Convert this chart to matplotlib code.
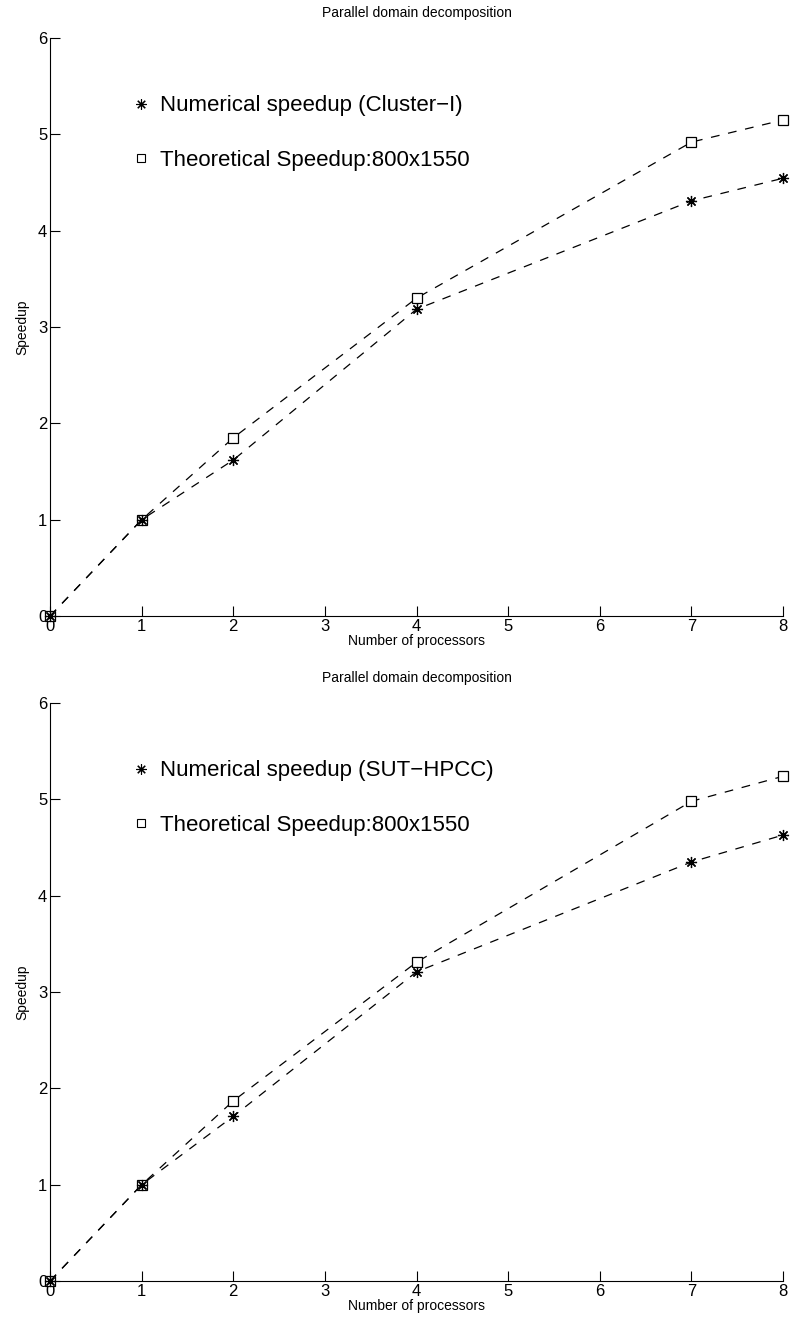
import matplotlib.pyplot as plt
from matplotlib.lines import Line2D

plt.rcParams['font.family'] = ['Liberation Sans', 'DejaVu Sans']

# processors used
procs = [0, 1, 2, 4, 7, 8]

# top panel (Cluster-I)
num_cluster = [0, 1.0, 1.62, 3.185, 4.31, 4.545]
theo_cluster = [0, 1.0, 1.85, 3.30, 4.92, 5.15]

# bottom panel (SUT-HPCC)
num_sut = [0, 1.0, 1.71, 3.21, 4.35, 4.63]
theo_sut = [0, 1.0, 1.87, 3.31, 4.98, 5.24]

panels = [
    ("Numerical speedup (Cluster\u2212I)", num_cluster, theo_cluster),
    ("Numerical speedup (SUT\u2212HPCC)", num_sut, theo_sut),
]

fig = plt.figure(figsize=(7.9, 13.26), dpi=100)
bottoms = [0.5354, 0.0339]
asterisk = (8, 2, 0)

for (label, num, theo), b in zip(panels, bottoms):
    ax = fig.add_axes([0.0633, b, 0.928, 0.4359])
    ax.plot(procs, theo, color='black', linestyle=(0, (7, 7)), linewidth=0.9,
            marker='s', markersize=7, markerfacecolor='white',
            markeredgecolor='black', markeredgewidth=0.9, clip_on=False)
    ax.plot(procs, num, color='black', linestyle=(0, (7, 7)), linewidth=0.9,
            marker=asterisk, markersize=8, markeredgecolor='black',
            markeredgewidth=0.9, clip_on=False)
    ax.set_xlim(0, 8)
    ax.set_ylim(0, 6)
    ax.set_xticks(range(0, 9))
    ax.set_yticks(range(0, 7))
    ax.spines['top'].set_visible(False)
    ax.spines['right'].set_visible(False)
    ax.tick_params(direction='in', length=7, labelsize=12, pad=2)
    ax.set_title("Parallel domain decomposition", fontsize=10, pad=15)
    ax.set_xlabel("Number of processors", fontsize=10, labelpad=0)
    ax.set_ylabel("Speedup", fontsize=10, labelpad=6)

    handles = [
        Line2D([], [], linestyle='none', marker=asterisk, markersize=7.5,
               markeredgecolor='black', markeredgewidth=0.8, color='black'),
        Line2D([], [], linestyle='none', marker='s', markersize=6,
               markerfacecolor='white', markeredgecolor='black',
               markeredgewidth=0.8),
    ]
    ax.legend(handles, [label, "Theoretical Speedup:800x1550"],
              loc='upper left', bbox_to_anchor=(0.1, 0.92), frameon=False,
              fontsize=16, handlelength=0.6, handletextpad=0.55,
              labelspacing=1.52, borderpad=0)

fig.savefig('out.png', dpi=100)
